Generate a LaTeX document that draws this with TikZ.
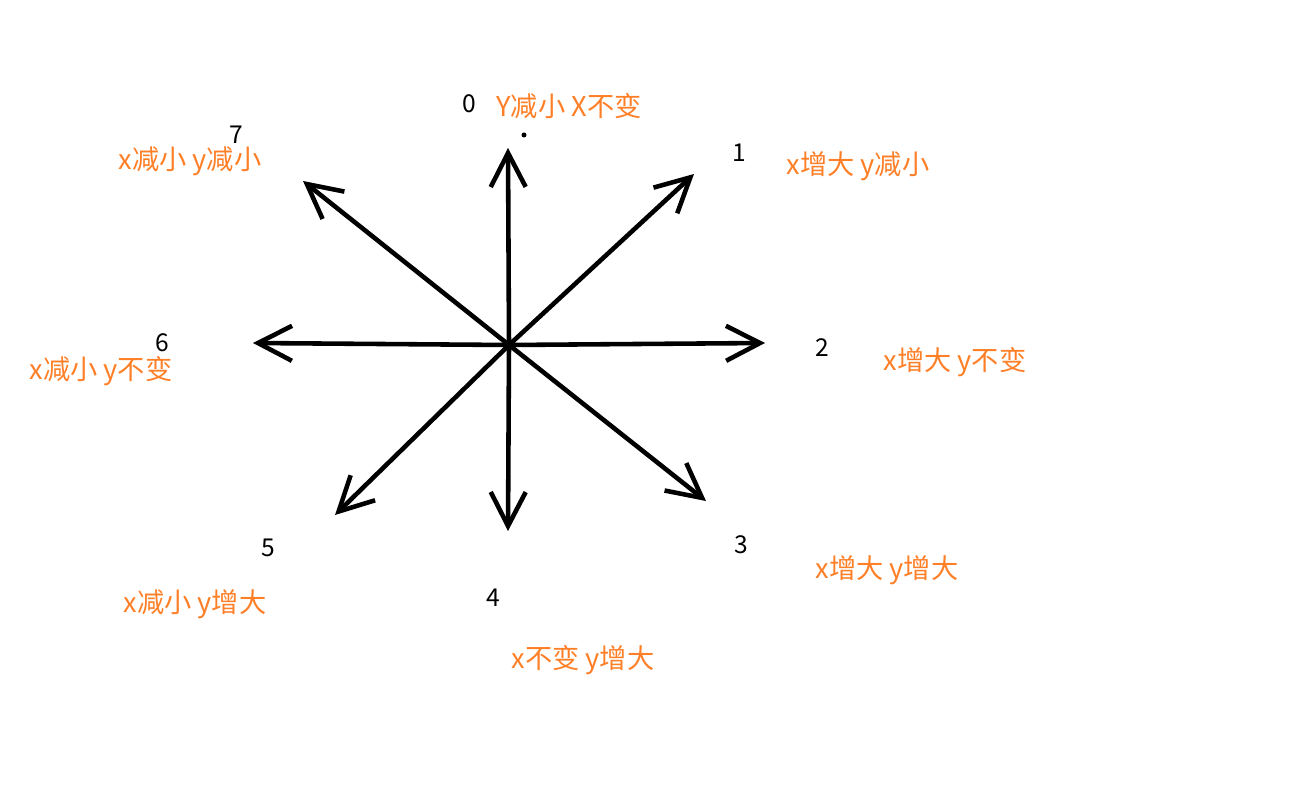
\documentclass[tikz,border=0pt]{standalone}
\usepackage{fontspec}
\newfontfamily\cjk{Noto Sans CJK SC}
\usetikzlibrary{arrows.meta}
\definecolor{paintorange}{RGB}{255,127,39}
\tikzset{
  dir/.style={line width=2.6pt, line cap=round, -{Straight Barb[length=0.68cm, width=0.7cm, line width=2.6pt]}},
  num/.style={font=\cjk\fontsize{14pt}{16pt}\selectfont, text=black, inner sep=0pt},
  note/.style={font=\cjk\fontsize{15.5pt}{18pt}\selectfont, text=paintorange, inner sep=0pt}
}
\begin{document}
\begin{tikzpicture}[x=0.02cm, y=-0.02cm]
    \useasboundingbox (0,0) rectangle (1309,797);
    % Nodes
    \coordinate (ctr) at (509,345);
    \coordinate (tip0) at (508,148);
    \coordinate (tip1) at (694,174);
    \coordinate (tip2) at (765,343);
    \coordinate (tip3) at (706,501);
    \coordinate (tip4) at (508,531);
    \coordinate (tip5) at (335,515);
    \coordinate (tip6) at (253,343);
    \coordinate (tip7) at (303,181);
    \node[num] (n0) at (469,104) {0};
    \node[num] (n1) at (739,153) {1};
    \node[num] (n2) at (822,348) {2};
    \node[num] (n3) at (741,545) {3};
    \node[num] (n4) at (493,598) {4};
    \node[num] (n5) at (268,548) {5};
    \node[num] (n6) at (162,343) {6};
    \node[num] (n7) at (236,135) {7};
    \node[note] (t0) at (569,106) {Y减小 X不变};
    \node[note] (t1) at (858,166) {x增大 y减小};
    \node[note] (t2) at (955,362) {x增大 y不变};
    \node[note] (t3) at (887,570) {x增大 y增大};
    \node[note] (t4) at (583,660) {x不变 y增大};
    \node[note] (t5) at (195,604) {x减小 y增大};
    \node[note] (t6) at (101,371) {x减小 y不变};
    \node[note] (t7) at (190,161) {x减小 y减小};
    \fill (524,135) circle (2.5);
    % Connection
    \draw[dir] (ctr) -- (tip0);
    \draw[dir] (ctr) -- (tip1);
    \draw[dir] (ctr) -- (tip2);
    \draw[dir] (ctr) -- (tip3);
    \draw[dir] (ctr) -- (tip4);
    \draw[dir] (ctr) -- (tip5);
    \draw[dir] (ctr) -- (tip6);
    \draw[dir] (ctr) -- (tip7);
  \end{tikzpicture}
\end{document}
